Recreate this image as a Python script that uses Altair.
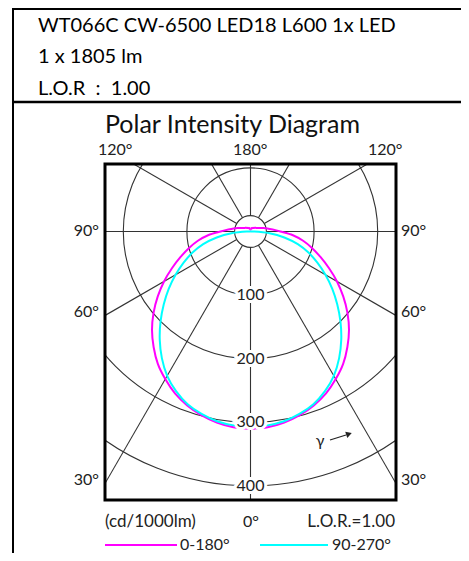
import altair as alt
import pandas as pd

# ---------------- data ----------------
gamma = list(range(0, 181, 5))
# C0-180 plane (magenta), cd/1000lm
i_c0 = [310, 309, 305, 299, 291, 281, 268, 254, 237, 219, 199, 178, 157, 136, 117, 100, 84, 67, 47,
        35, 27, 21, 16, 13, 11, 10, 9, 8, 7, 7, 6, 6, 6, 5, 4, 3, 3]
# C90-270 plane (cyan)
i_c90 = [307, 306, 303, 297, 289, 277, 262, 243, 222, 200, 178, 157, 136, 116, 97, 77, 54, 30, 6,
         0, 0, 0, 0, 0, 0, 0, 0, 0, 0, 0, 0, 0, 0, 0, 0, 0, 0]
planes = ["0-180°", "90-270°"]
colors = ["#ff00ff", "#00ffff"]
ring_radii = [25, 100, 200, 300, 400]
ring_labels = [100, 200, 300, 400]
spoke_angles = list(range(0, 360, 30))
header_lines = ["WT066C CW-6500 LED18 L600 1x LED", "1 x 1805 lm", "L.O.R\u00a0\u00a0:\u00a0\u00a01.00"]

# ---------------- layout ----------------
W, H = 291, 336          # frame (plot area)
CX, CY = 145.5, 67.5     # pole position inside frame (px)
S = 0.636                # px per cd/1000lm
PAD_L, PAD_T = 97, 156
OX, OY = 8 + PAD_L, 8 + PAD_T   # page position of plot origin

xs = alt.Scale(domain=[-CX / S, (W - CX) / S], nice=False, zero=False)
ys = alt.Scale(domain=[-(H - CY) / S, CY / S], nice=False, zero=False)

def px(x):
    return x - OX

def py(y):
    return y - OY

one = pd.DataFrame({"k": [0]})

# curves
rows = []
for plane, vals in zip(planes, [i_c0, i_c90]):
    for side in (-1, 1):
        for g, v in zip(gamma, vals):
            rows.append({"plane": plane, "side": side, "gamma": g, "I": v, "t": side * g})
curves = pd.DataFrame(rows)

curve_layer = alt.Chart(curves).transform_calculate(
    x="datum.side * datum.I * sin(datum.gamma * PI / 180)",
    y="-datum.I * cos(datum.gamma * PI / 180)",
).mark_line(strokeWidth=2, clip=True, interpolate="catmull-rom").encode(
    x=alt.X("x:Q", scale=xs, axis=None),
    y=alt.Y("y:Q", scale=ys, axis=None),
    color=alt.Color("plane:N", scale=alt.Scale(domain=planes, range=colors), legend=None),
    detail="plane:N",
    order=alt.Order("t:Q"),
)

rings = alt.Chart(pd.DataFrame({"r": ring_radii})).transform_calculate(
    cx="0", cy="0"
).mark_point(shape="circle", filled=False, stroke="#333333", strokeWidth=1.1,
             opacity=1, clip=True).encode(
    x=alt.X("cx:Q", scale=xs, axis=None),
    y=alt.Y("cy:Q", scale=ys, axis=None),
    size=alt.Size("r:Q", scale=alt.Scale(type="pow", exponent=2, domain=[0, 400],
                                         range=[0, (2 * S * 400) ** 2]), legend=None),
)

spokes = alt.Chart(pd.DataFrame({"a": spoke_angles})).transform_calculate(
    x1="25 * sin(datum.a * PI / 180)",
    y1="-25 * cos(datum.a * PI / 180)",
    x2="900 * sin(datum.a * PI / 180)",
    y2="-900 * cos(datum.a * PI / 180)",
).mark_rule(color="#333333", strokeWidth=1.1, clip=True).encode(
    x=alt.X("x1:Q", scale=xs, axis=None),
    y=alt.Y("y1:Q", scale=ys, axis=None),
    x2="x2:Q",
    y2="y2:Q",
)

lab_base = alt.Chart(pd.DataFrame({"r": ring_labels})).transform_calculate(
    lx="0", ly="-datum.r"
)
lab_halo = lab_base.mark_text(font="Lato", fontSize=16, stroke="white", strokeWidth=6,
                              baseline="middle").encode(
    x=alt.X("lx:Q", scale=xs, axis=None), y=alt.Y("ly:Q", scale=ys, axis=None), text="r:N")
lab_text = lab_base.mark_text(font="Lato", fontSize=16, color="#222222",
                              baseline="middle").encode(
    x=alt.X("lx:Q", scale=xs, axis=None), y=alt.Y("ly:Q", scale=ys, axis=None), text="r:N")

frame = alt.Chart(one).mark_rect(fillOpacity=0, stroke="black", strokeWidth=3).encode(
    x=alt.value(0), x2=alt.value(W), y=alt.value(0), y2=alt.value(H))


def T(label, x, y, size=16, align="left", font="Lato", color="#222222"):
    return alt.Chart(pd.DataFrame({"t": [label]})).mark_text(
        font=font, fontSize=size, align=align, baseline="alphabetic", color=color
    ).encode(x=alt.value(px(x)), y=alt.value(py(y)), text="t:N")


def R(x1, y1, x2, y2, color="black", w=2):
    return alt.Chart(one).mark_rule(color=color, strokeWidth=w).encode(
        x=alt.value(px(x1)), y=alt.value(py(y1)), x2=alt.value(px(x2)), y2=alt.value(py(y2)))


texts = [
    T(header_lines[0], 38, 32, size=20, color="black"),
    T(header_lines[1], 38, 63, size=20, color="black"),
    T(header_lines[2], 38, 95, size=20, color="black"),
    T("Polar Intensity Diagram", 105, 133, size=25, color="#111111"),
    T("120°", 98, 155), T("180°", 233, 155), T("120°", 368, 155),
    T("90°", 99, 236, align="right"), T("60°", 99, 317, align="right"), T("30°", 99, 485, align="right"),
    T("90°", 401, 236), T("60°", 401, 317), T("30°", 401, 485),
    T("(cd/1000lm)", 105, 527, size=17), T("0°", 243, 527), T("L.O.R.=1.00", 395, 527, size=17, align="right"),
    T(planes[0], 180, 550), T(planes[1], 332, 550),
    T("γ", 320, 446, size=16, align="center"),
]

rules = [
    R(13, 9, 469, 9, w=2),
    R(13, 8, 13, 561, w=2),
    R(13, 102, 469, 102, w=2.5),
    R(105, 545, 177, 545, color=colors[0], w=2),
    R(260, 545, 328, 545, color=colors[1], w=2),
    R(330, 440, 346, 435, color="#222222", w=1.3),
]

arrow_head = alt.Chart(one).mark_point(shape="triangle-right", filled=True, color="#222222",
                                       size=45, angle=342, opacity=1).encode(
    x=alt.value(px(349)), y=alt.value(py(434)))

chart = alt.layer(
    rings, spokes, curve_layer, lab_halo, lab_text, frame, *rules, arrow_head, *texts
).properties(
    width=W, height=H,
    padding={"left": PAD_L, "top": PAD_T, "right": 453 - PAD_L - W, "bottom": 545 - PAD_T - H},
    autosize=alt.AutoSizeParams(type="none"),
).configure_view(strokeWidth=0)

chart.save("out.html", embed_options={"renderer": "svg", "actions": False})
